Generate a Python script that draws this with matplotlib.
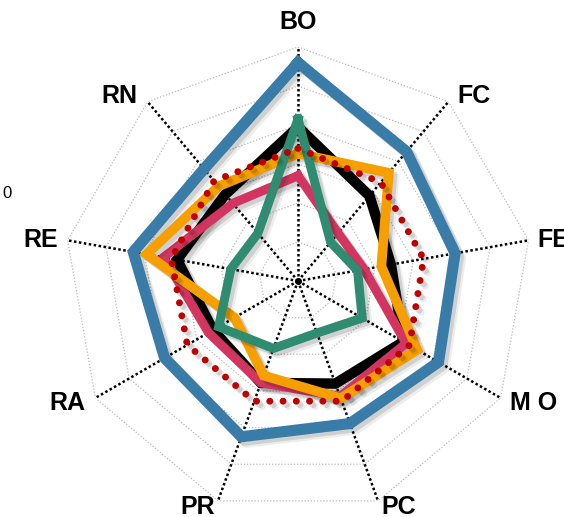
import numpy as np
import matplotlib
matplotlib.use('Agg')
import matplotlib.pyplot as plt
import matplotlib.patheffects as pe

plt.rcParams['font.family'] = ['Liberation Sans', 'DejaVu Sans']

# 雷达图数据
categories = ['BO', 'FC', 'FE', 'M O', 'PC', 'PR', 'RA', 'RE', 'RN']
blue = [5.6, 4.33, 4.09, 4.16, 3.89, 4.25, 3.95, 4.29, 3.75]
black = [3.95, 2.85, 2.42, 3.12, 2.8, 2.78, 2.52, 3.15, 2.9]
pink = [2.7, 1.6, 1.72, 3.2, 3.15, 2.78, 2.65, 3.5, 2.6]
orange = [3.27, 3.62, 2.17, 3.53, 3.2, 2.58, 1.88, 3.94, 3.17]
green = [4.15, 1.3, 1.55, 1.9, 1.42, 1.84, 2.35, 1.75, 1.6]
red = [3.4, 3.3, 3.27, 3.3, 3.28, 3.28, 3.28, 3.3, 3.35]
rings = [1, 2, 3, 4, 5, 6]

n = len(categories)
angles = np.linspace(0, 2 * np.pi, n, endpoint=False)
ang_c = np.append(angles, angles[0])

def close(v):
    return np.append(v, v[0])

fig = plt.figure(figsize=(5.64, 5.17), dpi=100)
ax = fig.add_axes([0.1135, 0.0039, 0.8298, 0.9052], projection='polar')
ax.set_theta_zero_location('N')
ax.set_theta_direction(-1)
ax.set_ylim(0, 6)
ax.set_axis_off()

# 网格
for r in rings:
    ax.plot(ang_c, [r] * (n + 1), color='#bdbdbd', lw=0.9, ls=(0, (1, 1.5)), zorder=1)
for a in angles:
    ax.plot([a, a], [0, 6], color='black', lw=1.8, ls=(0, (1, 1)), zorder=2)
ax.plot([0], [0], 'o', color='black', ms=4, zorder=2)

shadow = [pe.SimpleLineShadow(offset=(4, -4), shadow_color='black', alpha=0.07),
          pe.SimpleLineShadow(offset=(2.5, -2.5), shadow_color='black', alpha=0.12),
          pe.Normal()]

series = [
    (blue, '#3a7ca8', 8.0, 3),
    (black, '#000000', 7.5, 4),
    (pink, '#d2355f', 6.5, 5),
    (orange, '#f59f00', 7.0, 6),
    (green, '#2f8c70', 6.5, 7),
]
for vals, col, lw, z in series:
    ax.plot(ang_c, close(vals), color=col, lw=lw, solid_joinstyle='miter',
            zorder=z, path_effects=shadow)

ax.plot(ang_c, close(red), color='#c00000', lw=5, ls=(0, (0.01, 1.9)),
        dash_capstyle='round', zorder=8, path_effects=shadow)

# 轴标签：放在轴端点旁
for a, lab in zip(angles, categories):
    s, c = np.sin(a), np.cos(a)
    if abs(s) < 0.1:
        ha, dx = 'center', 0
    elif s > 0:
        ha, dx = 'left', (3 if c < -0.8 else 9)
    else:
        ha, dx = 'right', -(3 if c < -0.8 else 10)
    if c > 0.9:
        dy = 18
    elif c > 0.5:
        dy = -1
    elif c > 0:
        dy = -7
    elif c > -0.8:
        dy = -12
    else:
        dy = -13
    ax.annotate(lab, xy=(a, 6), xytext=(dx, dy), textcoords='offset pixels',
                ha=ha, va='baseline', fontsize=18, fontweight='bold',
                annotation_clip=False)

fig.text(7 / 564, 1 - 193 / 517, '0', ha='center', va='center', fontsize=12)

fig.savefig('out.png', dpi=100)
